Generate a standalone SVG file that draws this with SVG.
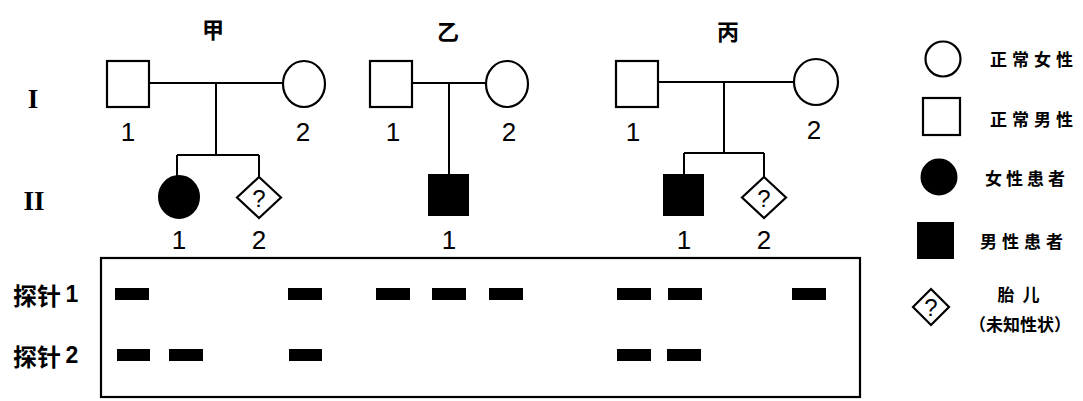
<svg xmlns="http://www.w3.org/2000/svg" width="1083" height="401" viewBox="0 0 1083 401">
<style>
.s{fill:#fff;stroke:#000;stroke-width:2.2}
.f{fill:#000;stroke:#000;stroke-width:2}
.l{fill:none;stroke:#000;stroke-width:2}
.num{font-family:"Liberation Sans",Arial,sans-serif;font-size:26px;text-anchor:middle;dominant-baseline:central}
.rom{font-family:"Liberation Serif","Times New Roman",serif;font-weight:bold;font-size:27px;text-anchor:middle;dominant-baseline:central}
.cjk{font-family:"Noto Sans CJK SC",sans-serif;font-weight:bold;dominant-baseline:central}
.q{font-family:"Liberation Sans",Arial,sans-serif;font-size:24px;text-anchor:middle;dominant-baseline:central}
.pn{font-family:"Liberation Sans",Arial,sans-serif;font-weight:bold;font-size:23px;text-anchor:middle;dominant-baseline:central}
.band{fill:#000}
</style>
<rect width="1083" height="401" fill="#fff"/>

<g id="titles">
<text class="cjk" x="213" y="28" font-size="22" text-anchor="middle">甲</text>
<text class="cjk" x="448" y="30" font-size="22" text-anchor="middle">乙</text>
<text class="cjk" x="728" y="30" font-size="22" text-anchor="middle">丙</text>
<text class="rom" x="33" y="99">I</text>
<text class="rom" x="34" y="201">II</text>
</g>

<g id="connectors">
<path class="l" d="M149 83H283 M216 83V155 M177 155H259 M177 155V177 M259 155V177"/>
<path class="l" d="M412 83H486 M449 83V175"/>
<path class="l" d="M658 82H794 M724 82V153 M684 153H764 M684 153V175 M764 153V177"/>
</g>

<g id="jia-I-1"><rect class="s" x="107" y="61" width="42" height="46"/><text class="num" x="128" y="132">1</text></g>
<g id="jia-I-2"><ellipse class="s" cx="304" cy="84" rx="21" ry="23"/><text class="num" x="303" y="132">2</text></g>
<g id="jia-II-1"><ellipse class="f" cx="179" cy="197" rx="20" ry="21"/><text class="num" x="179" y="240">1</text></g>
<g id="jia-II-2"><path class="s" d="M259 177L281 197.5L259 218L237 197.5Z"/><text class="q" x="259" y="198">?</text><text class="num" x="259" y="240">2</text></g>

<g id="yi-I-1"><rect class="s" x="370" y="61" width="42" height="46"/><text class="num" x="393" y="132">1</text></g>
<g id="yi-I-2"><ellipse class="s" cx="507" cy="84" rx="21" ry="23"/><text class="num" x="509" y="132">2</text></g>
<g id="yi-II-1"><rect class="f" x="429" y="175" width="39" height="40"/><text class="num" x="449" y="240">1</text></g>

<g id="bing-I-1"><rect class="s" x="616" y="61" width="42" height="46"/><text class="num" x="633" y="132">1</text></g>
<g id="bing-I-2"><ellipse class="s" cx="816" cy="82" rx="22" ry="23"/><text class="num" x="814" y="130">2</text></g>
<g id="bing-II-1"><rect class="f" x="664" y="175" width="39" height="40"/><text class="num" x="684" y="240">1</text></g>
<g id="bing-II-2"><path class="s" d="M764 177L786 197.5L764 218L742 197.5Z"/><text class="q" x="764" y="198">?</text><text class="num" x="764" y="240">2</text></g>

<g id="legend">
<circle class="s" cx="943" cy="59" r="17.5"/>
<text class="cjk" x="990" y="58" font-size="17" letter-spacing="5">正常女性</text>
<rect class="s" x="923" y="98" width="37" height="37"/>
<text class="cjk" x="990" y="118" font-size="17" letter-spacing="5">正常男性</text>
<circle class="f" cx="939" cy="177" r="17.5"/>
<text class="cjk" x="985" y="177" font-size="17" letter-spacing="4">女性患者</text>
<rect class="f" x="918" y="223" width="35" height="35"/>
<text class="cjk" x="980" y="240" font-size="17" letter-spacing="5">男性患者</text>
<path class="s" d="M931 289L949 307L931 325L913 307Z"/>
<text class="q" x="931" y="307" font-size="20">?</text>
<text class="cjk" x="1006" y="293" font-size="17" text-anchor="middle">胎</text>
<text class="cjk" x="1031" y="293" font-size="17" text-anchor="middle">儿</text>
<text class="cjk" x="1020" y="323" font-size="17" text-anchor="middle">（未知性状）</text>
</g>

<g id="gel">
<rect x="101" y="258" width="759" height="139" fill="none" stroke="#000" stroke-width="2.2"/>
<text class="cjk" x="13" y="294" font-size="24">探针</text>
<text class="pn" x="72" y="294">1</text>
<text class="cjk" x="13" y="355" font-size="24">探针</text>
<text class="pn" x="72" y="355">2</text>
<g class="band">
<rect x="115" y="288" width="34" height="12"/>
<rect x="288" y="288" width="34" height="12"/>
<rect x="376" y="288" width="34" height="12"/>
<rect x="432" y="288" width="34" height="12"/>
<rect x="489" y="288" width="34" height="12"/>
<rect x="617" y="288" width="34" height="12"/>
<rect x="668" y="288" width="34" height="12"/>
<rect x="792" y="288" width="34" height="12"/>
<rect x="117" y="349" width="33" height="12"/>
<rect x="169" y="349" width="34" height="12"/>
<rect x="289" y="349" width="33" height="12"/>
<rect x="617" y="349" width="34" height="12"/>
<rect x="667" y="349" width="34" height="12"/>
</g>
</g>
</svg>
